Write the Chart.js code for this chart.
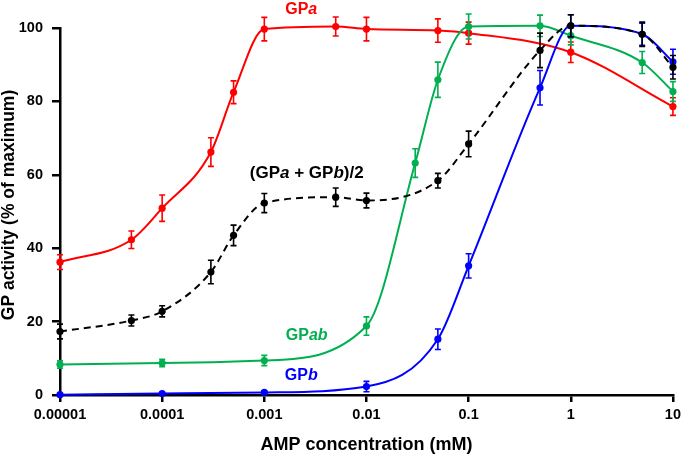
<!DOCTYPE html>
<html>
<head>
<meta charset="utf-8">
<script src="https://cdn.jsdelivr.net/npm/chart.js@4"></script>
<style>
    html, body { margin: 0; padding: 0; background: #fff; }
    #wrap { width: 685px; height: 454px; }
</style>
</head>
<body>
<div id="wrap"><canvas id="gpChart" width="685" height="454"></canvas></div>
<script>
// AMP concentration (mM) and activity (% of maximum) for each form
const ampGpa = [0.00001, 0.00005, 0.0001, 0.0003, 0.0005, 0.001, 0.005, 0.01, 0.05, 0.1, 1, 10];
const gpaValues = [36.2, 42.3, 50.9, 66.2, 82.5, 99.7, 100.4, 99.7, 99.3, 98.6, 93.4, 78.6];
const gpaErrors = [2, 2.4, 3.6, 3.9, 3.1, 3.2, 2.6, 3.2, 3.2, 3, 2.8, 2.4];

const ampMix = [0.00001, 0.00005, 0.0001, 0.0003, 0.0005, 0.001, 0.005, 0.01, 0.05, 0.1, 0.5, 1, 5, 10];
const mixValues = [17.3, 20.3, 22.8, 33.5, 43.5, 52.3, 53.9, 53, 58.4, 68.4, 93.9, 100.6, 98.3, 89.3];
const mixErrors = [2, 1.5, 1.5, 3.2, 2.8, 2.6, 2.5, 2, 2, 3.5, 4.7, 3, 3.3, 3.2];

const ampGpab = [0.00001, 0.0001, 0.001, 0.01, 0.03, 0.05, 0.1, 0.5, 1, 5, 10];
const gpabValues = [8.3, 8.7, 9.4, 18.8, 63.2, 85.9, 100.4, 100.6, 97.9, 90.6, 82.7];
const gpabErrors = [1, 1, 1.4, 2.5, 3.9, 4.8, 3.4, 2.9, 2.5, 3, 2.7];

const ampGpb = [0.00001, 0.0001, 0.001, 0.01, 0.05, 0.1, 0.5, 1, 5, 10];
const gpbValues = [0.1, 0.4, 0.7, 2.3, 15.2, 35.2, 83.7, 100.6, 98.3, 90.8];
const gpbErrors = [0.3, 0.3, 0.3, 1.4, 2.8, 3.3, 4.7, 3, 3, 3.4];

const xTickValues = [0.00001, 0.0001, 0.001, 0.01, 0.1, 1, 10];
const xTickLabels = ['0.00001', '0.0001', '0.001', '0.01', '0.1', '1', '10'];
const yTickValues = [0, 20, 40, 60, 80, 100];

const RED = '#ff0000';
const GREEN = '#00b050';
const BLUE = '#0000ff';
const BLACK = '#000000';
const FONT = '"Liberation Sans", Arial, sans-serif';

function toPoints(xs, ys) {
    return xs.map((x, i) => ({ x: x, y: ys[i] }));
}

function series(label, xs, ys, errs, color, dashed) {
    return {
        label: label,
        data: toPoints(xs, ys),
        errors: errs,
        borderColor: color,
        backgroundColor: color,
        borderWidth: 2,
        borderDash: dashed ? [7, 5] : [],
        pointRadius: 3.6,
        pointBorderWidth: 0,
        pointBackgroundColor: color,
        cubicInterpolationMode: 'monotone',
        clip: false
    };
}

// 误差棒
const errorBarPlugin = {
    id: 'errorBars',
    afterDatasetDraw(chart, args) {
        const ds = chart.data.datasets[args.index];
        if (!ds.errors) return;
        const ctx = chart.ctx;
        const yScale = chart.scales.y;
        ctx.save();
        ctx.setLineDash([]);
        ctx.strokeStyle = ds.borderColor;
        ctx.lineWidth = 1.6;
        args.meta.data.forEach((pt, i) => {
            const v = ds.data[i].y;
            const e = ds.errors[i];
            const top = yScale.getPixelForValue(v + e);
            const bot = yScale.getPixelForValue(v - e);
            ctx.beginPath();
            ctx.moveTo(pt.x, top); ctx.lineTo(pt.x, bot);
            ctx.moveTo(pt.x - 3, top); ctx.lineTo(pt.x + 3, top);
            ctx.moveTo(pt.x - 3, bot); ctx.lineTo(pt.x + 3, bot);
            ctx.stroke();
        });
        ctx.restore();
    }
};

// 曲线旁的文字标签 (部分斜体)
const seriesLabels = [
    { parts: [['GP', false], ['a', true]], color: RED, x: 0.0023, y: 105.0, size: 16 },
    { parts: [['(GP', false], ['a', true], [' + GP', false], ['b', true], [')/2', false]], color: BLACK, x: 0.0026, y: 60.3, size: 17 },
    { parts: [['GP', false], ['ab', true]], color: GREEN, x: 0.0026, y: 16.1, size: 16 },
    { parts: [['GP', false], ['b', true]], color: BLUE, x: 0.0023, y: 5.4, size: 16 }
];

const labelPlugin = {
    id: 'seriesLabels',
    afterDraw(chart) {
        const ctx = chart.ctx;
        const xs = chart.scales.x;
        const ys = chart.scales.y;
        ctx.save();
        ctx.textBaseline = 'middle';
        ctx.textAlign = 'left';
        seriesLabels.forEach(lab => {
            const fonts = lab.parts.map(p => (p[1] ? 'italic ' : '') + 'bold ' + lab.size + 'px ' + FONT);
            let total = 0;
            const widths = lab.parts.map((p, i) => {
                ctx.font = fonts[i];
                const w = ctx.measureText(p[0]).width;
                total += w;
                return w;
            });
            let cx = xs.getPixelForValue(lab.x) - total / 2;
            const cy = ys.getPixelForValue(lab.y);
            ctx.fillStyle = lab.color;
            lab.parts.forEach((p, i) => {
                ctx.font = fonts[i];
                ctx.fillText(p[0], cx, cy);
                cx += widths[i];
            });
        });

        // y 轴标题
        ctx.translate(9, 205);
        ctx.rotate(-Math.PI / 2);
        ctx.textAlign = 'center';
        ctx.fillStyle = BLACK;
        ctx.font = 'bold 17.5px ' + FONT;
        ctx.fillText('GP activity (% of maximum)', 0, 0);
        ctx.restore();
    }
};

const ctx = document.getElementById('gpChart').getContext('2d');
new Chart(ctx, {
    type: 'line',
    data: {
        datasets: [
            series('(GPa + GPb)/2', ampMix, mixValues, mixErrors, BLACK, true),
            series('GPb', ampGpb, gpbValues, gpbErrors, BLUE, false),
            series('GPab', ampGpab, gpabValues, gpabErrors, GREEN, false),
            series('GPa', ampGpa, gpaValues, gpaErrors, RED, false)
        ]
    },
    options: {
        responsive: false,
        animation: false,
        layout: { padding: { top: 28, right: 8, left: 0, bottom: 0 } },
        plugins: {
            legend: { display: false },
            tooltip: { enabled: false }
        },
        scales: {
            x: {
                type: 'logarithmic',
                min: 0.00001,
                max: 10,
                afterBuildTicks: (scale) => {
                    scale.ticks = xTickValues.map(v => ({ value: v }));
                },
                afterFit: (scale) => { scale.height = 59; },
                border: { display: true, color: BLACK, width: 2.5 },
                grid: { display: true, drawOnChartArea: false, drawTicks: true, tickLength: 7, color: BLACK, lineWidth: 2.5 },
                ticks: {
                    autoSkip: false,
                    maxRotation: 0,
                    padding: 4,
                    color: BLACK,
                    font: { family: FONT, size: 14.5, weight: 'bold' },
                    callback: (value, index) => xTickLabels[index]
                },
                title: {
                    display: true,
                    text: 'AMP concentration (mM)',
                    color: BLACK,
                    padding: { top: 0, bottom: 0 },
                    font: { family: FONT, size: 18, weight: 'bold', lineHeight: 1 }
                }
            },
            y: {
                min: 0,
                max: 100,
                afterBuildTicks: (scale) => {
                    scale.ticks = yTickValues.map(v => ({ value: v }));
                },
                afterFit: (scale) => { scale.width = 60; },
                border: { display: true, color: BLACK, width: 2.5 },
                grid: { display: true, drawOnChartArea: false, drawTicks: true, tickLength: 8, color: BLACK, lineWidth: 2.5 },
                ticks: {
                    padding: 9,
                    color: BLACK,
                    font: { family: FONT, size: 14.5, weight: 'bold' }
                }
            }
        }
    },
    plugins: [errorBarPlugin, labelPlugin]
});
</script>
</body>
</html>
